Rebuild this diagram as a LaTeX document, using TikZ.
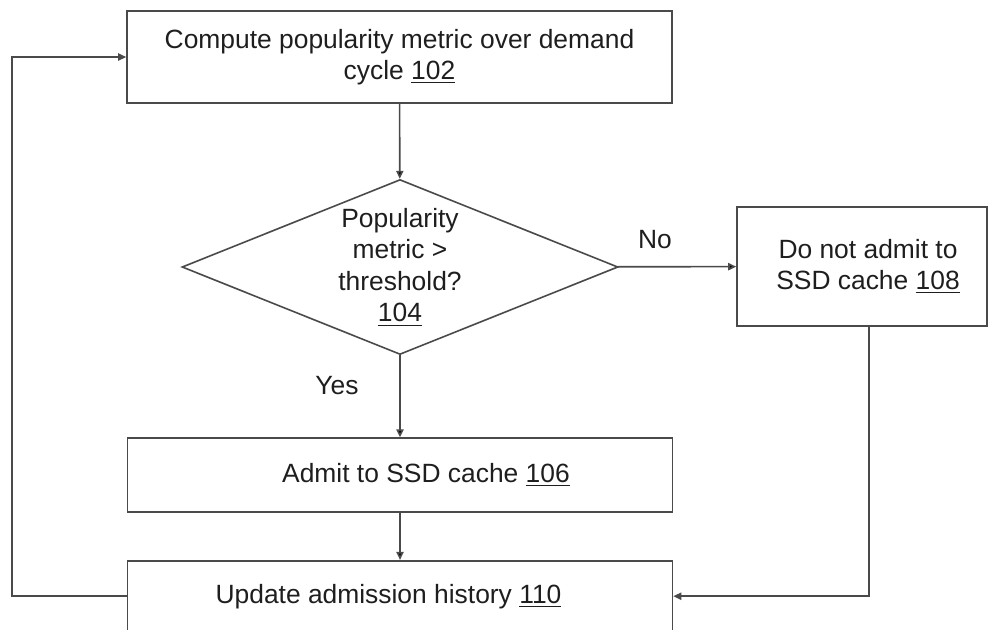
\documentclass[tikz,border=0pt]{standalone}
\usepackage{fontspec}
\setmainfont{Liberation Sans}
\usepackage[dvipsnames, x11names]{xcolor}
\usetikzlibrary{positioning}
\usetikzlibrary{shapes.geometric, arrows.meta}
\definecolor{linegray}{HTML}{4A4A4A}
\definecolor{textgray}{HTML}{1E1E1E}
\tikzset{
  stepbox/.style={draw=linegray, line width=0.8pt, rectangle, align=center, inner sep=0pt, text=textgray},
  testbox/.style={draw=linegray, line width=0.8pt, diamond, aspect=2.5, align=center, inner sep=-8pt, text=textgray},
  flow/.style={draw=linegray, line width=0.8pt, ->}
}

\begin{document}
\begin{tikzpicture}[x=0.5pt, y=-0.5pt, font=\fontsize{13.2}{15.8}\selectfont,
    >={Triangle[length=4pt, width=3.6pt]}]
    \useasboundingbox (0,0) rectangle (988,629);
    \clip (0,0) rectangle (988,629);

    \node[stepbox, minimum width=272.5pt, minimum height=46pt] (cmp) at (399.5,57) {Compute popularity metric over demand\\cycle \underline{102}};
     \node[testbox, minimum width=218pt, minimum height=87.5pt] (dec) at (400,267) {Popularity\\metric >\\threshold?\\\underline{104}};
    \node[stepbox, minimum width=272.5pt, minimum height=37pt] (adm) [below = 41pt of dec.south] {\hspace*{26pt}Admit to SSD cache \underline{106}};
      \node[stepbox, minimum width=272.5pt, minimum height=35.5pt] (upd) [below = 23.5pt of adm] {Update admission history \underline{110}\hspace*{11.5pt}};
      \node[stepbox, minimum width=125pt, minimum height=59.5pt] (rej) at (862,266.5) {\hspace*{6pt}Do not admit to\\\hspace*{6pt}SSD cache \underline{108}};

      \node[text=textgray] (no) at (655,240) {No};
      \node[text=textgray] (yes) at (337,386) {Yes};

      \path[flow]
      (cmp) edge (dec)
      (dec) edge (adm)
      (dec) edge (rej)
      (adm) edge (upd);
      \draw[flow] ([xshift=3.5pt]rej.south) |- (upd.east);
      \draw[flow] (upd.west) -- ++(-115,0) |- (cmp.west);
\end{tikzpicture}
\end{document}
